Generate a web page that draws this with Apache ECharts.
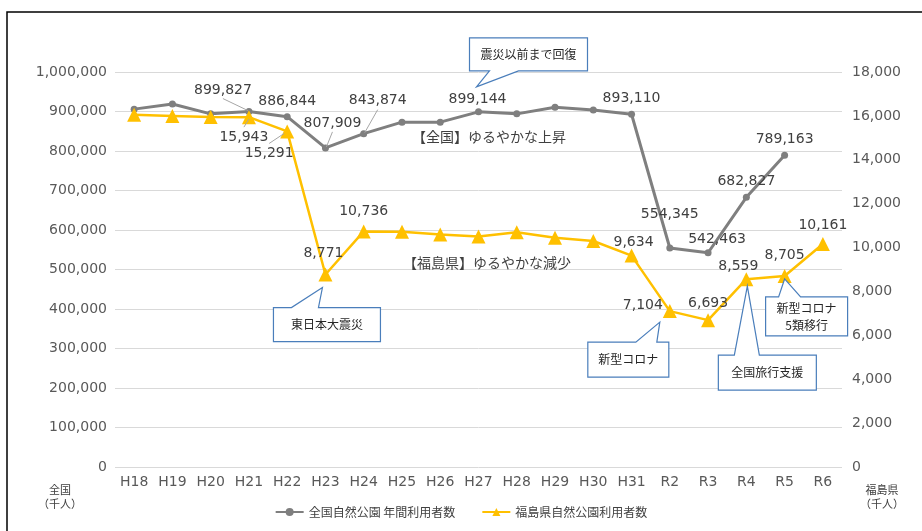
<!DOCTYPE html>
<html><head><meta charset="utf-8">
<script src="https://cdn.jsdelivr.net/npm/echarts@6/dist/echarts.min.js"></script>
<style>html,body{margin:0;padding:0;background:#fff}#c{width:922px;height:531px}</style>
</head><body><div id="c"></div>
<script>
const categories = ['H18','H19','H20','H21','H22','H23','H24','H25','H26','H27','H28','H29','H30','H31','R2','R3','R4','R5','R6'];
const nationalUsers = [906000, 919000, 894000, 899827, 886844, 807909, 843874, 873000, 873000, 899144, 894000, 911000, 904000, 893110, 554345, 542463, 682827, 789163, null];
const fukushimaUsers = [16050, 16000, 15950, 15943, 15291, 8771, 10736, 10720, 10600, 10500, 10700, 10450, 10300, 9634, 7104, 6693, 8559, 8705, 10161];
const leftTicks = {min: 0, max: 1000000, interval: 100000};
const rightTicks = {min: 0, max: 18000, interval: 2000};
const seriesNames = ['全国自然公園 年間利用者数', '福島県自然公園利用者数'];

// label placement tweaks (index -> [position, dx, dy])
const nationalLabels = {3:['top',-26,-6],4:['top',0,0],5:['top',7,-9],6:['top',14,-18],9:['top',-1,3],13:['top',0,0],14:['top',0,-18],15:['top',9,2],16:['top',0,0],17:['top',0,0]};
const fukushimaLabels = {3:['bottom',-5,1],4:['bottom',-18,3],5:['top',-2,-2],6:['top',0,-1],13:['top',2,6],14:['top',-27,13],15:['top',0,2],16:['top',-8,6],17:['top',0,-2],18:['top',0,0]};

const fmt = v => Number(v).toLocaleString('en-US');
const FONT = '"Noto Sans CJK JP", "Noto Sans", sans-serif';
const NUMFONT = '"DejaVu Sans", "Noto Sans CJK JP", sans-serif';

function buildData(values, labels) {
  return values.map((v, i) => {
    const l = labels[i];
    if (!l || v == null) return {value: v, label: {show: false}};
    return {value: v, label: {show: true, position: l[0], offset: [l[1], l[2]]}};
  });
}

const chart = echarts.init(document.getElementById('c'));
const labelStyle = {color: '#404040', fontSize: 14, fontFamily: NUMFONT, formatter: p => fmt(p.value)};

chart.setOption({
  animation: false,
  textStyle: {fontFamily: FONT},
  grid: {left: 115, right: 80, top: 72, bottom: 64},
  legend: {
    bottom: 8, left: 'center', itemWidth: 28, itemHeight: 10, itemGap: 26,
    textStyle: {color: '#404040', fontSize: 12, fontFamily: FONT},
    data: seriesNames
  },
  xAxis: {
    type: 'category', data: categories, boundaryGap: true,
    axisLine: {show: false}, axisTick: {show: false},
    axisLabel: {color: '#595959', fontSize: 14, margin: 8, fontFamily: NUMFONT}
  },
  yAxis: [
    {type: 'value', min: leftTicks.min, max: leftTicks.max, interval: leftTicks.interval,
     axisLine: {show: false}, axisTick: {show: false},
     splitLine: {lineStyle: {color: '#d9d9d9', width: 1}},
     axisLabel: {color: '#595959', fontSize: 14, margin: 8, formatter: fmt, fontFamily: NUMFONT}},
    {type: 'value', min: rightTicks.min, max: rightTicks.max, interval: rightTicks.interval,
     axisLine: {show: false}, axisTick: {show: false}, splitLine: {show: false},
     axisLabel: {color: '#595959', fontSize: 14, margin: 10, formatter: fmt, fontFamily: NUMFONT}}
  ],
  series: [
    {name: seriesNames[0], type: 'line', yAxisIndex: 0, data: buildData(nationalUsers, nationalLabels),
     symbol: 'circle', symbolSize: 7, connectNulls: false,
     lineStyle: {color: '#7f7f7f', width: 3}, itemStyle: {color: '#7f7f7f'},
     label: labelStyle, z: 2},
    {name: seriesNames[1], type: 'line', yAxisIndex: 1, data: buildData(fukushimaUsers, fukushimaLabels),
     symbol: 'triangle', symbolSize: 14,
     lineStyle: {color: '#FFC000', width: 2.5}, itemStyle: {color: '#FFC000'},
     label: labelStyle, z: 3}
  ]
});

function px(s, i) {
  const v = s === 0 ? nationalUsers[i] : fukushimaUsers[i];
  return chart.convertToPixel({seriesIndex: s}, [i, v]);
}

const callouts = [
  {text: '震災以前まで回復', s: 0, i: 9, box: [-9, -74, 118, 33], tail: 'bottom', t: [11, 40], tip: [-2, -25]},
  {text: '東日本大震災', s: 1, i: 5, box: [-52, 33, 107, 34], tail: 'top', t: [-34, -7], tip: [-3, 13]},
  {text: '新型コロナ', s: 1, i: 14, box: [-82, 31, 81, 35], tail: 'top', t: [-34, -13], tip: [-10, 11]},
  {text: '全国旅行支援', s: 1, i: 16, box: [-28, 76, 98, 35], tail: 'top', t: [-12, 13], tip: [1, 7]},
  {text: '新型コロナ\n5類移行', s: 1, i: 17, box: [-19, 21, 82, 39], tail: 'top', t: [-6, 16], tip: [0, 3]}
];
const leaders = [
  {s: 0, i: 3, a: [-26, -13], b: [-1, -1]},
  {s: 0, i: 5, a: [7, -16], b: [1, -1]},
  {s: 0, i: 6, a: [14, -24], b: [1, -1]},
  {s: 1, i: 3, a: [-5, 10], b: [0, 2]},
  {s: 1, i: 4, a: [-18, 12], b: [-3, 2]}
];

const g = [];
g.push({type: 'rect', shape: {x: 7, y: 12, width: 960, height: 560}, style: {fill: 'none', stroke: '#000', lineWidth: 1.5}, silent: true, z: 0});
callouts.forEach(c => {
  const [ax, ay] = px(c.s, c.i);
  const x0 = ax + c.box[0], y0 = ay + c.box[1], x1 = x0 + c.box[2], y1 = y0 + c.box[3];
  const tip = [ax + c.tip[0], ay + c.tip[1]];
  let pts;
  if (c.tail === 'top') {
    pts = [[x0, y0], [ax + c.t[0], y0], tip, [ax + c.t[1], y0], [x1, y0], [x1, y1], [x0, y1]];
  } else {
    pts = [[x0, y0], [x1, y0], [x1, y1], [ax + c.t[1], y1], tip, [ax + c.t[0], y1], [x0, y1]];
  }
  g.push({type: 'polygon', shape: {points: pts}, style: {fill: '#fff', stroke: '#4a7ebb', lineWidth: 1.2}, z: 10});
  g.push({type: 'text', x: (x0 + x1) / 2, y: (y0 + y1) / 2, z: 11,
    style: {text: c.text, fill: '#262626', fontSize: 12, fontFamily: FONT, align: 'center', verticalAlign: 'middle', lineHeight: 17}});
});
leaders.forEach(l => {
  const [ax, ay] = px(l.s, l.i);
  g.push({type: 'line', shape: {x1: ax + l.a[0], y1: ay + l.a[1], x2: ax + l.b[0], y2: ay + l.b[1]}, style: {stroke: '#a6a6a6', lineWidth: 1}, z: 5});
});
g.push({type: 'text', x: 489, y: 137, style: {text: '【全国】ゆるやかな上昇', fill: '#404040', fontSize: 14, fontFamily: FONT, align: 'center', verticalAlign: 'middle'}});
g.push({type: 'text', x: 487, y: 263, style: {text: '【福島県】ゆるやかな減少', fill: '#404040', fontSize: 14, fontFamily: FONT, align: 'center', verticalAlign: 'middle'}});
g.push({type: 'text', x: 60, y: 497, style: {text: '全国\n（千人）', fill: '#404040', fontSize: 11, fontFamily: FONT, align: 'center', verticalAlign: 'middle', lineHeight: 14}});
g.push({type: 'text', x: 882, y: 497, style: {text: '福島県\n（千人）', fill: '#404040', fontSize: 11, fontFamily: FONT, align: 'center', verticalAlign: 'middle', lineHeight: 14}});
chart.setOption({graphic: g});
</script>
</body></html>
